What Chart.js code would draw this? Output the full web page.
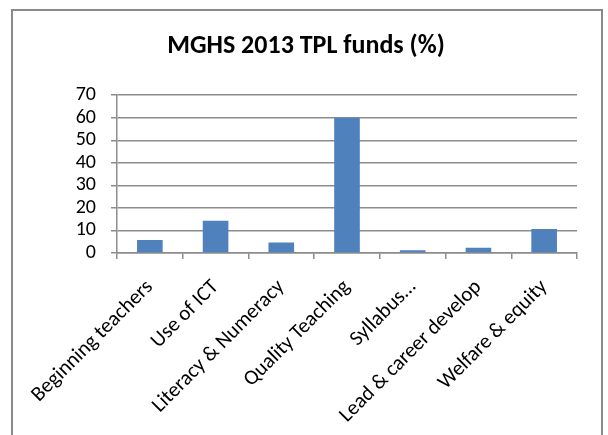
<!DOCTYPE html>
<html>
<head>
<meta charset="utf-8">
<script src="https://cdn.jsdelivr.net/npm/chart.js@4"></script>
<style>
  html, body { margin: 0; padding: 0; background: #fff; }
  .wrap { position: relative; width: 608px; height: 435px; overflow: hidden; }
  .frame { position: absolute; left: 11px; top: 9px; width: 592px; height: 440px;
           border: 2px solid #8a8a8a; border-bottom: none; box-sizing: border-box; }
  canvas { position: absolute; left: 0; top: 0; }
</style>
</head>
<body>
<div class="wrap">
  <div class="frame"></div>
  <canvas id="tplChart" width="608" height="435"></canvas>
</div>
<script>
// chart data
const categories = ['Beginning teachers', 'Use of ICT', 'Literacy & Numeracy', 'Quality Teaching',
                    'Syllabus…', 'Lead & career develop', 'Welfare & equity'];
const fundsPct = [5.8, 14.3, 4.7, 60, 1.2, 2.3, 10.6];
const yTicks = [0, 10, 20, 30, 40, 50, 60, 70];

const fontFam = "Carlito, 'Open Sans', sans-serif";

document.addEventListener('DOMContentLoaded', () => {
    let ctx = document.getElementById('tplChart').getContext('2d');

    new Chart(ctx, {
        type: 'bar',
        data: {
            labels: categories,
            datasets: [{
                data: fundsPct,
                backgroundColor: '#4f81bd',
                borderWidth: 0,
                categoryPercentage: 1,
                barPercentage: 0.39
            }]
        },
        options: {
            responsive: false,
            animation: false,
            layout: { padding: { top: 20, right: 31, left: 35, bottom: 0 } },
            plugins: {
                legend: { display: false },
                tooltip: { enabled: false },
                title: {
                    display: true,
                    text: 'MGHS 2013 TPL funds (%)',
                    color: '#000',
                    font: { family: fontFam, size: 26, weight: 'bold', lineHeight: 1.2 },
                    padding: { top: 11, bottom: 33 }
                }
            },
            scales: {
                x: {
                    grid: { offset: true, drawOnChartArea: false, color: '#8c8c8c', lineWidth: 1.5, tickLength: 6 },
                    border: { color: '#8c8c8c', width: 1.5 },
                    ticks: {
                        color: '#000',
                        font: { family: fontFam, size: 21 },
                        maxRotation: 45, minRotation: 45,
                        autoSkip: false, padding: 16
                    },
                    afterFit: (scale) => { scale.height = 435 - 253; }
                },
                y: {
                    min: 0, max: 70,
                    afterBuildTicks: (scale) => { scale.ticks = yTicks.map(v => ({ value: v })); },
                    grid: { color: '#8c8c8c', lineWidth: 1.5, tickLength: 6 },
                    border: { color: '#8c8c8c', width: 1.5 },
                    ticks: {
                        color: '#000',
                        font: { family: fontFam, size: 20 },
                        autoSkip: false,
                        padding: 15
                    },
                    afterFit: (scale) => { scale.width = 117 - 35; }
                }
            }
        }
    });
});
</script>
</body>
</html>
